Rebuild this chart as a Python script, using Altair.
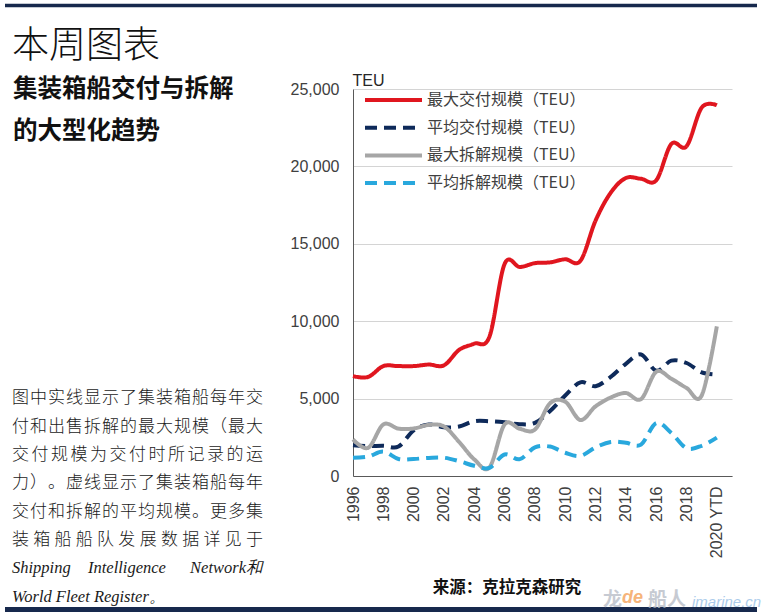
import altair as alt
import pandas as pd

# ---- data -------------------------------------------------------------
years = list(range(1996, 2021))
series = ["最大交付规模（TEU）", "平均交付规模（TEU）", "最大拆解规模（TEU）", "平均拆解规模（TEU）"]
max_delivered = [6450, 6400, 7100, 7100, 7100, 7200, 7150, 8150, 8550, 9000,
                 13700, 13500, 13750, 13800, 14000, 13900, 16500, 18300, 19250, 19200,
                 19100, 21450, 21300, 23800, 23950]
avg_delivered = [1980, 1930, 1950, 1900, 2950, 3330, 3150, 3200, 3540, 3540,
                 3470, 3350, 3430, 4200, 5200, 6050, 5800, 6400, 7250, 7850,
                 6800, 7450, 7300, 6700, 6550]
max_scrapped = [2360, 1820, 3330, 3060, 3070, 3300, 3200, 2200, 1070, 550,
                3330, 3050, 3000, 4700, 4800, 3620, 4500, 5070, 5360, 4970,
                6730, 6280, 5690, 5200, 9670]
avg_scrapped = [1180, 1250, 1580, 1100, 1100, 1170, 1180, 960, 660, 530,
                1390, 1090, 1850, 1900, 1500, 1300, 1850, 2200, 2150, 2030,
                3420, 2780, 1800, 1950, 2480]
year_ticks = list(range(1996, 2021, 2))
teu_ticks = [0, 5000, 10000, 15000, 20000, 25000]

colors = ["#e0161f", "#0e2a5a", "#a6a6a6", "#29a8dd"]
dashes = [[1, 0], [12, 7], [1, 0], [12, 7]]

title_text = "本周图表"
subtitle_lines = ["集装箱船交付与拆解", "的大型化趋势"]
para_lines = ["图中实线显示了集装箱船每年交",
              "付和出售拆解的最大规模（最大",
              "交付规模为交付时所记录的运",
              "力）。虚线显示了集装箱船每年",
              "交付和拆解的平均规模。更多集",
              "装箱船船队发展数据详见于"]
source_text = "来源：克拉克森研究"

# ---- canvas geometry (plot area origin) ---------------------------------
W, H = 762, 616
OX, OY = 353, 89
PW, PH = 379, 387

rows = []
for name, vals in zip(series, [max_delivered, avg_delivered, max_scrapped, avg_scrapped]):
    for y, v in zip(years, vals):
        rows.append({"year": y, "teu": v, "series": name})
df = pd.DataFrame(rows)

legend_kw = dict(title=None, orient="none", legendX=10, legendY=3, padding=0,
                 symbolType="stroke", symbolSize=3249, symbolStrokeWidth=4,
                 clipHeight=16, rowPadding=11.7, labelFontSize=16,
                 labelFont="Noto Sans CJK SC", labelColor="#404040", labelOffset=3)

lines = alt.Chart(df).mark_line(strokeWidth=4, interpolate="cardinal").encode(
    x=alt.X("year:Q",
            scale=alt.Scale(domain=[1996, 2021], nice=False, zero=False),
            axis=alt.Axis(values=year_ticks, format="d",
                          labelExpr="datum.value == 2020 ? '2020 YTD' : datum.label",
                          labelAngle=270, grid=False, ticks=False, labelPadding=10,
                          domainColor="#595959", labelFontSize=16,
                          labelFont="Liberation Sans", labelColor="#404040",
                          title=None)),
    y=alt.Y("teu:Q",
            scale=alt.Scale(domain=[0, 25000], nice=False),
            axis=alt.Axis(values=teu_ticks, format=",d", ticks=False, labelPadding=14,
                          labelFontSize=16, labelFont="Liberation Sans",
                          labelColor="#404040", domainColor="#595959",
                          gridColor="#d4d4d4", title="TEU", titleAngle=0,
                          titleAlign="left", titleBaseline="alphabetic",
                          titleX=-1, titleY=-4, titleFontSize=16,
                          titleFontWeight="normal", titleFont="Liberation Sans",
                          titleColor="#262626")),
    color=alt.Color("series:N", sort=series,
                    scale=alt.Scale(domain=series, range=colors),
                    legend=alt.Legend(**legend_kw)),
    strokeDash=alt.StrokeDash("series:N", sort=series,
                              scale=alt.Scale(domain=series, range=dashes),
                              legend=alt.Legend(**legend_kw)),
)


def text_layer(frame, **kw):
    """Free text placed in canvas pixels (converted to plot-area coordinates)."""
    frame = frame.copy()
    frame["px"] = frame["cx"] - OX
    frame["py"] = frame["cy"] - OY
    return alt.Chart(frame).mark_text(**kw).encode(
        x=alt.X("px:Q", scale=None, axis=None),
        y=alt.Y("py:Q", scale=None, axis=None),
        text="t:N",
    )


def rule(x0, x1, y, width):
    return alt.Chart(pd.DataFrame({"k": [0]})).mark_rule(
        color="#17294d", strokeWidth=width).encode(
        x=alt.value(x0 - OX), x2=alt.value(x1 - OX), y=alt.value(y - OY))


# heading block
title = text_layer(pd.DataFrame({"t": [title_text], "cx": [12], "cy": [47]}),
                   align="left", baseline="middle", font="Noto Sans CJK SC",
                   fontSize=37, fontWeight=300, color="#111111")
subtitle = text_layer(pd.DataFrame({"t": subtitle_lines, "cx": [13, 13], "cy": [90, 132]}),
                      align="left", baseline="middle", font="Noto Sans CJK SC",
                      fontSize=24.5, fontWeight="bold", color="#111111")

# justified paragraph, one character per cell
para_y = [398, 427, 455, 483, 512, 540]
left, right, fs = 12, 263, 17
chars = []
for line, cy in zip(para_lines, para_y):
    n = len(line)
    step = (right - left - fs) / (n - 1)
    for k, ch in enumerate(line):
        chars.append({"t": ch, "cx": left + fs / 2 + k * step, "cy": cy})
para = text_layer(pd.DataFrame(chars), align="center", baseline="middle",
                  font="Noto Sans CJK SC", fontSize=fs, fontWeight=300, color="#1a1a1a")

latin_left = text_layer(pd.DataFrame({"t": ["Shipping", "Intelligence", "World Fleet Register。"],
                                      "cx": [12, 88, 12], "cy": [568, 568, 597]}),
                        align="left", baseline="middle", font="Liberation Serif",
                        fontStyle="italic", fontSize=16.5, color="#1a1a1a")
latin_right = text_layer(pd.DataFrame({"t": ["Network和"], "cx": [263], "cy": [568]}),
                         align="right", baseline="middle", font="Liberation Serif",
                         fontStyle="italic", fontSize=16.5, color="#1a1a1a")

source = text_layer(pd.DataFrame({"t": [source_text], "cx": [507], "cy": [588]}),
                    align="center", baseline="middle", font="Noto Sans CJK SC",
                    fontSize=16.5, fontWeight="bold", color="#111111")

# site mark in the lower right corner
mark_gray = text_layer(pd.DataFrame({"t": ["龙", "船人"], "cx": [603, 648], "cy": [600, 600]}),
                       align="left", baseline="middle", font="Noto Sans CJK SC",
                       fontSize=19, fontWeight="bold", color="#b9bec8", opacity=0.8)
mark_de = text_layer(pd.DataFrame({"t": ["de"], "cx": [622], "cy": [598]}),
                     align="left", baseline="middle", font="Liberation Sans",
                     fontSize=18, fontStyle="italic", fontWeight="bold",
                     color="#f4a25a", opacity=0.8)
mark_site = text_layer(pd.DataFrame({"t": ["imarine.cn"], "cx": [692], "cy": [602]}),
                       align="left", baseline="middle", font="Liberation Sans",
                       fontSize=15, fontStyle="italic", color="#9cc3e8", opacity=0.85)

chart = alt.layer(
    rule(5, 757, 5.5, 3.5),
    rule(5, 757, 609.5, 5),
    lines,
    title, subtitle, para, latin_left, latin_right, source,
    mark_gray, mark_de, mark_site,
).properties(
    width=PW, height=PH,
    padding={"left": OX, "top": OY, "right": W - OX - PW, "bottom": H - OY - PH},
    autosize=alt.AutoSizeParams(type="none"),
    background="white",
).configure_view(strokeWidth=0)

chart.save("out.html", embed_options={"renderer": "svg", "actions": False})
